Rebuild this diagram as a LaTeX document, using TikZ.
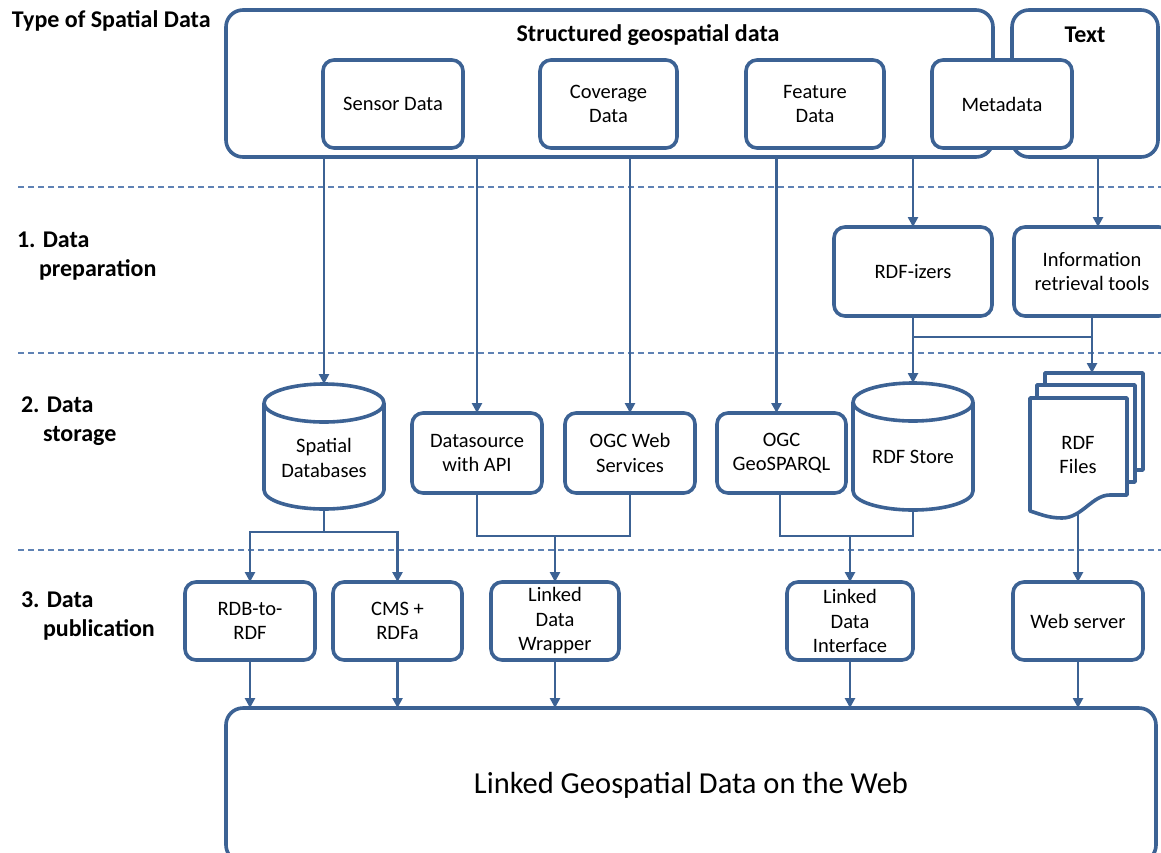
\documentclass[tikz,border=0pt]{standalone}
\usepackage{fontspec}
\setmainfont{Carlito}
\usetikzlibrary{arrows.meta,calc}
\definecolor{edge}{RGB}{60,98,148}
\definecolor{sep}{RGB}{95,130,180}

% cylinder outline drawn round a named node
\newcommand\drum[1]{%
  \draw[shapeline] ($(#1.north)+(0,19)$) ellipse [x radius=60pt, y radius=19pt];
  \draw[shapeline] ($(#1.north west)+(0,19)$) -- ($(#1.south west)+(0,-19)$)
     arc[start angle=180, end angle=360, x radius=60pt, y radius=19pt]
     -- ($(#1.north east)+(0,19)$);
}

\begin{document}
\begin{tikzpicture}[x=1pt,y=-1pt,
  every node/.style={inner sep=0pt, outer sep=0pt, text=black},
  boxtext/.style={font=\fontsize{20.5}{24.5}\selectfont, align=center},
  box/.style={boxtext, draw=edge, line width=3.6pt, rounded corners=11pt, fill=white},
  frame/.style={draw=edge, line width=3.6pt, rounded corners=17pt},
  shapeline/.style={draw=edge, line width=3.6pt, line join=round},
  head/.style={font=\fontsize{24}{29}\selectfont\bfseries, align=left},
  flow/.style={draw=edge, line width=2.7pt},
  arr/.style={flow, -{Triangle[width=10pt,length=10pt]}},
  sepline/.style={draw=sep, line width=1.2pt, dash pattern=on 6pt off 4pt},
]
\useasboundingbox (0,0) rectangle (1161,852);
\clip (0,0) rectangle (1161,852);

% stage separators
\draw[sepline] (18,187) -- (1161,187);
\draw[sepline] (18,353) -- (1161,353);
\draw[sepline] (18,550) -- (1161,550);

% stage labels
\node[head, anchor=west] (typelabel) at (12,21) {Type of Spatial Data};
\node[head, anchor=west] (lab1) at (17,256) {1. Data\\\hspace*{22pt}preparation};
\node[head, anchor=west] (lab2) at (21,421) {2. Data\\\hspace*{22pt}storage};
\node[head, anchor=west] (lab3) at (21,616) {3. Data\\\hspace*{22pt}publication};

% kinds of spatial data
\node[frame, minimum width=767pt, minimum height=147pt] (struct) at (609.5,83.5) {};
\node[frame, minimum width=146pt, minimum height=147pt] (textframe) at (1085,83.5) {};
\node[head] (structtitle) at (648,35) {Structured geospatial data};
\node[head] (texttitle) at (1085,35) {Text};

\node[box, minimum width=140pt, minimum height=88pt] (sensor) at (393,104) {Sensor Data};
\node[box, minimum width=137pt, minimum height=88pt] (coverage) at (608.5,104) {Coverage\\Data};
\node[box, minimum width=138pt, minimum height=88pt] (feature) at (815,104) {Feature\\Data};
\node[box, minimum width=140pt, minimum height=88pt] (metadata) at (1002,104) {Metadata};

% 1. data preparation
\node[box, minimum width=158pt, minimum height=89pt] (rdfizer) at (913,271.5) {RDF-izers};
\node[box, minimum width=156pt, minimum height=89pt] (irtools) at (1092,271.5) {Information\\retrieval tools};

% 2. data storage
\node[minimum width=120pt, minimum height=125pt] (sdb) at (324,446.5) {};
\drum{sdb}
\node[boxtext] (sdblabel) at (324,458) {Spatial\\Databases};

\node[box, minimum width=130pt, minimum height=80pt] (dsapi) at (477,453) {Datasource\\with API};
\node[box, minimum width=130pt, minimum height=80pt] (ogcws) at (630,453) {OGC Web\\Services};
\node[box, minimum width=129pt, minimum height=80pt] (geosparql) at (781.5,453) {OGC\\GeoSPARQL};

\node[minimum width=120pt, minimum height=127pt] (rdfstore) at (913,446.5) {};
\drum{rdfstore}
\node[boxtext] (rdfstorelabel) at (913,457) {RDF Store};

% stack of RDF files
\draw[shapeline, fill=white] (1045,373) rectangle (1143,470);
\draw[shapeline, fill=white] (1037,385) rectangle (1135,482);
\draw[shapeline, fill=white] (1030,398) -- (1127,398) -- (1127,495) -- (1110,495)
  .. controls (1092,495) and (1082,518) .. (1062,518)
  .. controls (1048,518) and (1040,514) .. (1030,511) -- cycle;
\node[boxtext] (files) at (1078,455) {RDF\\Files};
\coordinate (filestop) at (1092,373);
\coordinate (filesbot) at (1078,514);

% 3. data publication
\node[box, minimum width=130pt, minimum height=78pt] (rdb) at (250,621) {RDB-to-\\RDF};
\node[box, minimum width=129pt, minimum height=78pt] (cms) at (397.5,621) {CMS +\\RDFa};
\node[box, minimum width=128pt, minimum height=78pt] (ldw) at (555,621) {Linked\\Data\\Wrapper};
\node[box, minimum width=126pt, minimum height=78pt] (ldi) at (850,621) {Linked\\Data\\Interface};
\node[box, minimum width=130pt, minimum height=78pt] (web) at (1078,621) {Web server};

\node[frame, minimum width=930pt, minimum height=154pt,
      font=\fontsize{30.5}{36}\selectfont] (lgd) at (691,785) {Linked Geospatial Data on the Web};

% helper levels for the joining bars
\coordinate (barlevel) at (0,337);
\coordinate (lvA) at (0,532);
\coordinate (lvB) at (0,536);
\coordinate (geoin) at ($(geosparql.north)+(-5,0)$);
\coordinate (irin) at ($(irtools.north)+(6,0)$);

% source data into preparation and storage
\draw[arr] (sdb.north |- struct.south) -- (sdb.north);
\draw[arr] (dsapi.north |- struct.south) -- (dsapi.north);
\draw[arr] (ogcws.north |- struct.south) -- (ogcws.north);
\draw[arr] (geoin |- struct.south) -- (geoin);
\draw[arr] (rdfizer.north |- struct.south) -- (rdfizer.north);
\draw[arr] (irin |- textframe.south) -- (irin);

% preparation into storage
\draw[arr] (rdfizer.south) -- (rdfstore.north);
\draw[arr] (irtools.south) -- (filestop);
\draw[flow] (rdfizer.south |- barlevel) -- (irtools.south |- barlevel);

% storage into publication
\draw[flow] (sdb.south) -- (sdb.south |- lvA);
\draw[arr] (sdb.south |- lvA) -| (rdb.north);
\draw[arr] (sdb.south |- lvA) -| (cms.north);

\draw[flow] (dsapi.south) |- (ogcws.south |- lvB) -- (ogcws.south);
\draw[arr] (ldw.north |- lvB) -- (ldw.north);

\draw[flow] ([xshift=-1.5pt]geosparql.south) |- (rdfstore.south |- lvB) -- (rdfstore.south);
\draw[arr] (ldi.north |- lvB) -- (ldi.north);

\draw[arr] (filesbot) -- (web.north);

% publication onto the web
\draw[arr] (rdb.south) -- (rdb.south |- lgd.north);
\draw[arr] (cms.south) -- (cms.south |- lgd.north);
\draw[arr] (ldw.south) -- (ldw.south |- lgd.north);
\draw[arr] (ldi.south) -- (ldi.south |- lgd.north);
\draw[arr] (web.south) -- (web.south |- lgd.north);
\end{tikzpicture}
\end{document}
